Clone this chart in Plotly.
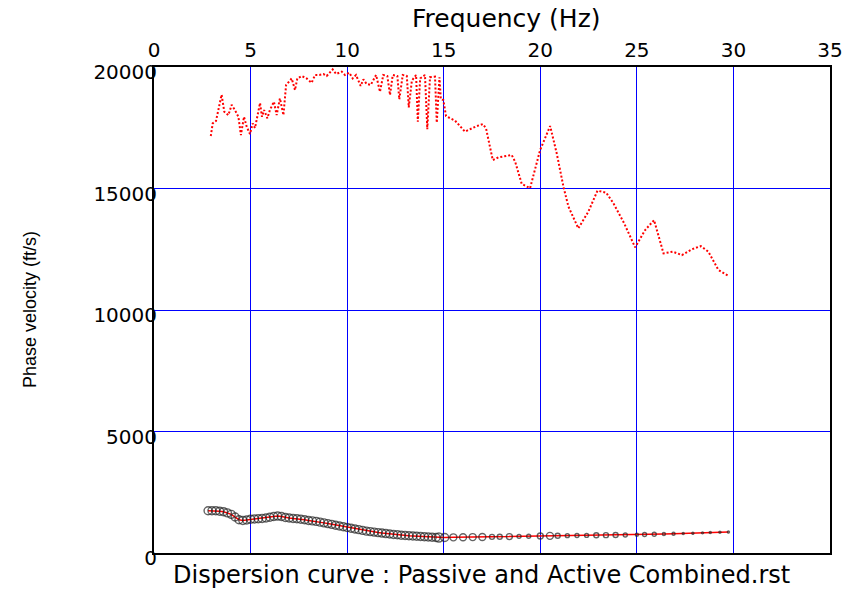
import plotly.graph_objects as go

# Red dotted curve (dispersion image maxima)
freq_max = [2.94, 3.04, 3.21, 3.5, 3.64, 3.85, 4.02, 4.19, 4.37, 4.5, 4.66, 4.8, 4.97, 5.11, 5.23,
            5.49, 5.59, 5.7, 5.87, 6.0, 6.21, 6.35, 6.52, 6.7, 6.84, 7.13, 7.3, 7.42, 7.65, 7.9,
            8.16, 8.34, 8.56, 8.77, 8.94, 9.25, 9.43, 9.72, 9.89, 10.11, 10.29, 10.46, 10.7, 10.84,
            11.01, 11.22, 11.5, 11.7, 11.87, 12.08, 12.22, 12.36, 12.6, 12.7, 12.88, 13.09, 13.19,
            13.35, 13.57, 13.66, 13.78, 14.03, 14.15, 14.29, 14.55, 14.64, 14.78, 14.85, 14.98,
            15.12, 15.59, 16.1, 16.71, 17.02, 17.19, 17.54, 17.83, 18.18, 18.52, 18.7, 19.04, 19.47,
            19.99, 20.51, 20.85, 21.2, 21.46, 21.97, 22.49, 22.96, 23.41, 23.79, 24.34, 24.91, 25.43,
            25.89, 26.38, 26.86, 27.33, 27.85, 28.31, 28.7, 29.22, 29.74]
vel_max = [17160, 17680, 17780, 18860, 18160, 18020, 18440, 18230, 17950, 17200, 17950, 17540, 17240,
           17680, 17490, 18520, 17950, 18230, 17890, 18230, 18570, 18020, 18710, 18020, 19260, 19530,
           19050, 19530, 19630, 19530, 19350, 19670, 19670, 19710, 19630, 19900, 19710, 19810, 19670,
           19770, 19530, 19670, 19220, 19490, 19300, 19260, 19670, 18980, 19670, 19630, 18850, 19670,
           19630, 18670, 19670, 19630, 18340, 19440, 19670, 17750, 19530, 19670, 17440, 19580, 19600,
           17710, 19580, 18670, 18640, 17980, 17790, 17340, 17570, 17650, 17480, 16170, 16280, 16340,
           16380, 16100, 15190, 15010, 16580, 17570, 16450, 15070, 14250, 13360, 14050, 14910, 14830,
           14390, 13570, 12580, 13290, 13700, 12330, 12400, 12260, 12500, 12630, 12400, 11650, 11400]

# Picked dispersion curve (circles with red line)
freq_pick = [2.8, 3.0, 3.2, 3.4, 3.6, 3.8, 4.0, 4.2, 4.4, 4.6, 4.8, 5.0, 5.2, 5.4, 5.6, 5.8, 6.0,
             6.2, 6.4, 6.6, 6.8, 7.0, 7.2, 7.4, 7.6, 7.8, 8.0, 8.2, 8.4, 8.6, 8.8, 9.0, 9.2, 9.4,
             9.6, 9.8, 10.0, 10.2, 10.4, 10.6, 10.8, 11.0, 11.2, 11.4, 11.6, 11.8, 12.0, 12.2, 12.4,
             12.6, 12.8, 13.0, 13.2, 13.4, 13.6, 13.8, 14.0, 14.2, 14.4, 14.6, 14.75, 15.05,
             15.5, 16.0, 16.5, 17.0, 17.5, 17.9, 18.4, 18.9, 19.4, 20.0, 20.5, 20.9, 21.4, 21.9,
             22.4, 22.9, 23.4, 23.9, 24.4, 25.0, 25.4, 25.9, 26.4, 26.9, 27.4, 27.9, 28.4, 28.8, 29.3, 29.74]
vel_pick = [1740, 1740, 1740, 1720, 1700, 1650, 1590, 1480, 1370, 1340, 1360, 1390, 1400, 1410,
            1420, 1440, 1470, 1500, 1520, 1500, 1460, 1440, 1420, 1410, 1390, 1370, 1340, 1320,
            1300, 1270, 1240, 1210, 1180, 1140, 1110, 1080, 1050, 1020, 990, 960, 930, 900, 880,
            860, 840, 820, 800, 780, 760, 750, 730, 720, 710, 700, 690, 680, 670, 660, 650, 640,
            640, 640, 645, 650, 655, 660, 665, 670, 675, 685, 690, 700, 705, 710, 715, 720, 725,
            730, 735, 740, 740, 750, 760, 770, 780, 790, 800, 815, 830, 845, 855, 864]
size_pick = [8] * 60 + [9, 8,
             7, 7, 7, 7, 5, 5, 6, 4, 4, 6, 7, 5, 4, 4, 4, 5, 5, 5, 4, 3, 4, 4, 3, 3, 2, 2, 2, 2, 2, 2]

x_ticks = [0, 5, 10, 15, 20, 25, 30, 35]
y_ticks = [0, 5000, 10000, 15000, 20000]

fig = go.Figure()
fig.add_trace(go.Scatter(
    x=freq_max, y=vel_max, mode="lines",
    line=dict(color="#FF0000", width=2, dash="2px,2px"),
    hoverinfo="skip", showlegend=False))
fig.add_trace(go.Scatter(
    x=freq_pick, y=vel_pick, mode="lines+markers",
    line=dict(color="#FF0000", width=1.5),
    marker=dict(symbol="circle-open", size=size_pick, color="#222222",
                line=dict(width=1.4, color="#222222")),
    showlegend=False))

title_font = dict(family="DejaVu Sans", size=25, color="black")
tick_font = dict(family="DejaVu Sans", size=20, color="black")

fig.update_layout(
    width=858, height=589,
    margin=dict(l=154, r=28, t=67, b=36),
    paper_bgcolor="white", plot_bgcolor="white",
    xaxis=dict(range=[0, 35], tickvals=x_ticks, ticktext=[str(v) for v in x_ticks],
               side="top", showgrid=True, gridcolor="#0000FF", gridwidth=1,
               showline=True, linecolor="black", linewidth=2, mirror=True,
               ticks="", tickfont=tick_font, zeroline=False),
    yaxis=dict(range=[0, 20000], tickvals=y_ticks, ticktext=[str(v) for v in y_ticks],
               showgrid=True, gridcolor="#0000FF", gridwidth=1,
               showline=True, linecolor="black", linewidth=2, mirror=True,
               ticks="", tickfont=tick_font, zeroline=False,
               ticklabelstandoff=-9, ticklabelshift=5),
    annotations=[
        dict(text="Frequency (Hz)", xref="paper", yref="paper", x=0.522, y=1, yshift=49,
             xanchor="center", yanchor="middle", showarrow=False, font=title_font),
        dict(text="Dispersion curve : Passive and Active Combined.rst", xref="paper", yref="paper",
             x=0.485, y=0, yshift=-22, xanchor="center", yanchor="middle", showarrow=False,
             font=dict(family="DejaVu Sans", size=24, color="black")),
        dict(text="Phase velocity (ft/s)", xref="paper", yref="paper", x=0, xshift=-124, y=0.5,
             xanchor="center", yanchor="middle", textangle=-90, showarrow=False,
             font=dict(family="Liberation Sans", size=18, color="black")),
    ],
)

fig.write_html("out.html")
